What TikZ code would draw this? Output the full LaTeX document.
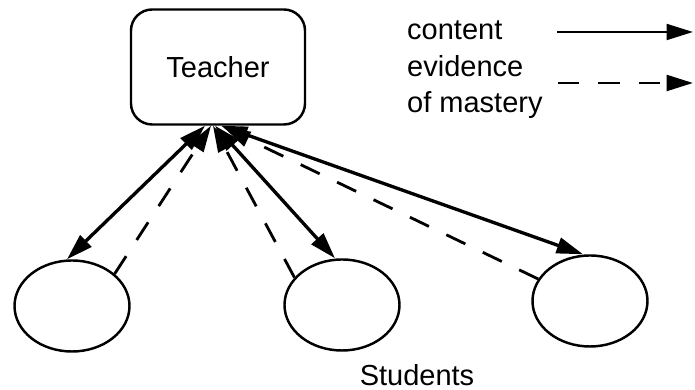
\documentclass[tikz,border=0pt]{standalone}
\usepackage{fontspec}
\setmainfont{Liberation Sans}
\usepackage{tikz}
\usetikzlibrary{arrows.meta, positioning, shapes.geometric}
\tikzset{
    tbox/.style={
        draw, line width=1.4pt,
        rounded corners=12pt,
        minimum width=3.48cm, minimum height=2.3cm,
        align=center
    },
    sbox/.style={
        draw, ellipse, line width=1.4pt,
        minimum width=2.3cm, minimum height=1.82cm
    },
    contentarrow/.style={{Triangle[length=15pt, width=9pt]}-{Triangle[length=15pt, width=9pt]}, line width=1.9pt},
    masteryarrow/.style={-{Triangle[length=15pt, width=9pt]}, line width=1.6pt, dash pattern=on 12pt off 11pt},
}

\begin{document}
\begin{tikzpicture}[font=\fontsize{16.5}{19}\selectfont]
    \useasboundingbox (0,0) rectangle (13.9,7.8);

    \node[tbox] (teacher) at (4.36,6.46) {Teacher};

    \node[sbox] (stuA) at (1.44,1.68) {};
    \node[sbox] (stuB) at (6.84,1.70) {};
    \node[sbox] (stuC) at (11.8,1.78) {};
    \node (students) at (8.34,0.3) {Students};

    % meeting points under the teacher box
    \coordinate (tA) at ([xshift=-0.26cm]teacher.south);
    \coordinate (tAd) at ([xshift=-0.14cm]teacher.south);
    \coordinate (tB) at ([xshift=-0.06cm]teacher.south);
    \coordinate (tBd) at ([xshift=-0.10cm]teacher.south);
    \coordinate (tC) at ([xshift=0.06cm]teacher.south);
    \coordinate (tCd) at ([xshift=0.12cm,yshift=-0.04cm]teacher.south);

    % content (solid, both ways)
    \draw[contentarrow] (tA) -- ([xshift=-0.1cm]stuA.north);
    \draw[contentarrow] (tB) -- ([xshift=-0.14cm]stuB.north);
    \draw[contentarrow] (tC) -- ([xshift=-0.14cm]stuC.north);

    % evidence of mastery (dashed, up to the teacher)
    \draw[masteryarrow] (stuA.37) -- (tAd);
    \draw[masteryarrow] (stuB.150) -- (tBd);
    \draw[masteryarrow] (stuC.157) -- (tCd);

    % legend
    \node[anchor=west] (lcontent) at (8.02,7.2) {content};
    \node[anchor=west, align=left, font=\fontsize{16.5}{20}\selectfont] (lmastery) at (8.02,6.06) {evidence\\of mastery};
    \coordinate (lc1) at (11.14,7.16);
    \coordinate (lc2) at (13.86,7.16);
    \coordinate (lm1) at (11.16,6.14);
    \coordinate (lm2) at (13.86,6.14);
    \draw[-{Triangle[length=15pt, width=9pt]}, line width=1.4pt] (lc1) -- (lc2);
    \draw[masteryarrow] (lm1) -- (lm2);
\end{tikzpicture}
\end{document}
